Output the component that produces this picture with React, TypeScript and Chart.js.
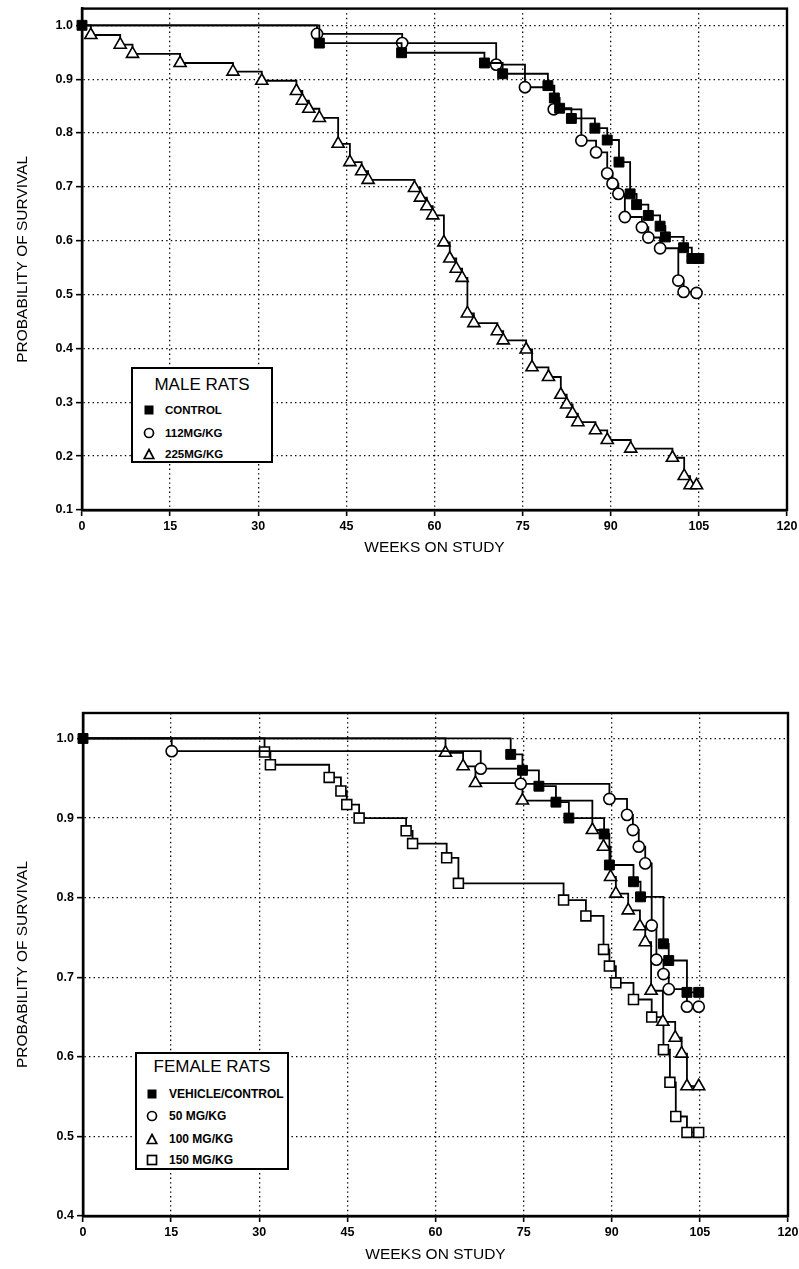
import React, { useEffect, useRef } from "react";
import { Chart, registerables } from "chart.js";

Chart.register(...registerables);

// ---------- axis ticks ----------
const weekTicks = [0, 15, 30, 45, 60, 75, 90, 105, 120];
const maleYTicks = [0.1, 0.2, 0.3, 0.4, 0.5, 0.6, 0.7, 0.8, 0.9, 1.0];
const femaleYTicks = [0.4, 0.5, 0.6, 0.7, 0.8, 0.9, 1.0];

// ---------- male rats ----------
const maleControlWeeks = [0, 40.4, 54.4, 68.5, 71.6, 79.3, 80.4, 81.3, 83.3, 87.3, 89.4, 91.4, 93.3, 94.4, 96.4, 98.4, 99.3, 102.4, 103.8, 105];
const maleControlSurv = [1.0, 0.967, 0.949, 0.93, 0.91, 0.888, 0.865, 0.846, 0.827, 0.809, 0.787, 0.746, 0.687, 0.667, 0.647, 0.627, 0.607, 0.587, 0.567, 0.567];

const male112Weeks = [0, 40.0, 54.5, 70.5, 75.4, 80.3, 85.0, 87.5, 89.4, 90.3, 91.3, 92.4, 95.3, 96.4, 98.4, 101.5, 102.4, 104.6];
const male112Surv = [1.0, 0.984, 0.967, 0.927, 0.885, 0.844, 0.786, 0.764, 0.725, 0.706, 0.687, 0.644, 0.625, 0.606, 0.586, 0.526, 0.505, 0.503];

const male225Weeks = [0, 1.5, 6.5, 8.6, 16.7, 25.7, 30.6, 36.5, 37.5, 38.6, 40.4, 43.6, 45.6, 47.6, 48.7, 56.6, 57.6, 58.7, 59.7, 61.6, 62.6, 63.7, 64.7, 65.6, 66.7, 70.7, 71.7, 75.6, 76.6, 79.4, 81.5, 82.5, 83.5, 84.4, 87.4, 89.4, 93.4, 100.5, 102.5, 103.5, 104.6];
const male225Surv = [1.0, 0.982, 0.964, 0.947, 0.93, 0.914, 0.897, 0.878, 0.86, 0.845, 0.828, 0.78, 0.746, 0.729, 0.713, 0.698, 0.68, 0.664, 0.647, 0.597, 0.567, 0.548, 0.531, 0.465, 0.447, 0.432, 0.415, 0.398, 0.365, 0.347, 0.314, 0.296, 0.279, 0.263, 0.248, 0.23, 0.214, 0.197, 0.163, 0.146, 0.146];

// ---------- female rats ----------
const femaleControlWeeks = [0, 72.8, 74.8, 77.6, 80.5, 82.7, 88.7, 89.6, 93.7, 94.9, 98.8, 99.7, 102.8, 104.8];
const femaleControlSurv = [1.0, 0.98, 0.96, 0.94, 0.92, 0.9, 0.88, 0.841, 0.82, 0.801, 0.742, 0.721, 0.681, 0.681];

const female50Weeks = [0, 15.1, 67.7, 74.5, 89.6, 92.6, 93.6, 94.6, 95.7, 96.8, 97.6, 98.8, 99.7, 102.8, 104.8];
const female50Surv = [1.0, 0.984, 0.962, 0.943, 0.924, 0.904, 0.885, 0.864, 0.843, 0.765, 0.722, 0.704, 0.685, 0.663, 0.663];

const female100Weeks = [0, 61.7, 64.7, 66.8, 74.8, 86.7, 88.6, 89.8, 90.7, 92.8, 94.8, 95.7, 96.7, 98.7, 100.8, 101.9, 102.8, 104.8];
const female100Surv = [1.0, 0.982, 0.965, 0.944, 0.922, 0.885, 0.864, 0.826, 0.805, 0.784, 0.764, 0.744, 0.683, 0.644, 0.624, 0.604, 0.563, 0.563];

const female150Weeks = [0, 30.9, 31.9, 41.9, 43.9, 44.9, 47.0, 55.0, 56.1, 61.9, 63.9, 81.8, 85.6, 88.6, 89.6, 90.7, 93.7, 96.8, 98.8, 99.9, 100.9, 102.8, 104.8];
const female150Surv = [1.0, 0.983, 0.967, 0.951, 0.934, 0.917, 0.9, 0.884, 0.868, 0.85, 0.818, 0.797, 0.777, 0.735, 0.714, 0.693, 0.672, 0.65, 0.609, 0.568, 0.525, 0.505, 0.505];

const FONT = "'Liberation Sans', Arial, Helvetica, sans-serif";

type Marker = "filledSquare" | "circle" | "triangle" | "openSquare";

function toPoints(xs: number[], ys: number[]) {
  return xs.map((x, i) => ({ x, y: ys[i] }));
}

function makeDataset(label: string, xs: number[], ys: number[], marker: Marker, hideFirst: boolean) {
  const style =
    marker === "filledSquare" ? "rect" : marker === "openSquare" ? "rect" : marker === "circle" ? "circle" : "triangle";
  const radius = marker === "filledSquare" || marker === "openSquare" ? 7 : marker === "circle" ? 5.6 : 7;
  return {
    label,
    data: toPoints(xs, ys),
    stepped: "before" as const,
    borderColor: "#000",
    borderWidth: 1.8,
    fill: false,
    clip: false as const,
    pointStyle: style,
    pointRadius: xs.map((_, i) => (hideFirst && i === 0 ? 0 : radius)),
    pointBackgroundColor: marker === "filledSquare" ? "#000" : "#fff",
    pointBorderColor: "#000",
    pointBorderWidth: marker === "filledSquare" ? 1 : 1.6,
  };
}

const framePlugin = {
  id: "frame",
  afterDraw(chart: any) {
    const { ctx, chartArea } = chart;
    ctx.save();
    ctx.strokeStyle = "#000";
    ctx.lineWidth = 2.4;
    ctx.strokeRect(chartArea.left, chartArea.top, chartArea.right - chartArea.left, chartArea.bottom - chartArea.top);
    ctx.restore();
  },
};

function buildConfig(
  datasets: any[],
  yMin: number,
  yMax: number,
  yTicks: number[],
  pad: { left: number; right: number; top: number; xHeight: number }
) {
  const gridCommon = {
    color: "#000",
    lineWidth: 1.3,
    tickLength: 6,
    tickColor: "#000",
    tickWidth: 1.6,
    tickBorderDash: [],
  };
  const borderCommon = { display: true, color: "#000", width: 2.4, dash: [1.4, 3.2] };
  const zeroPad = (s: any) => {
    s.paddingLeft = 0;
    s.paddingRight = 0;
    s.paddingTop = 0;
    s.paddingBottom = 0;
  };
  return {
    type: "line" as const,
    data: { datasets },
    options: {
      animation: false as const,
      responsive: false,
      maintainAspectRatio: false,
      devicePixelRatio: 1,
      layout: { padding: { left: 0, right: pad.right, top: pad.top, bottom: 0 } },
      plugins: { legend: { display: false }, tooltip: { enabled: false } },
      scales: {
        x: {
          type: "linear" as const,
          min: 0,
          max: 120,
          afterBuildTicks: (s: any) => {
            s.ticks = weekTicks.map((v) => ({ value: v }));
          },
          afterFit: (s: any) => {
            s.height = pad.xHeight;
            zeroPad(s);
          },
          ticks: {
            color: "#000",
            font: { family: FONT, size: 12.5, weight: "bold" as const },
            padding: 3,
            maxRotation: 0,
            autoSkip: false,
            callback: (v: any) => String(v),
          },
          grid: gridCommon,
          border: borderCommon,
          title: {
            display: true,
            text: "WEEKS ON STUDY",
            color: "#000",
            font: { family: FONT, size: 15.5, weight: "normal" as const },
            padding: { top: 0, bottom: 0 },
          },
        },
        y: {
          type: "linear" as const,
          min: yMin,
          max: yMax,
          afterBuildTicks: (s: any) => {
            s.ticks = yTicks.map((v) => ({ value: v }));
          },
          afterFit: (s: any) => {
            s.width = pad.left;
            zeroPad(s);
          },
          ticks: {
            color: "#000",
            font: { family: FONT, size: 12.5, weight: "bold" as const },
            padding: 3,
            autoSkip: false,
            callback: (v: any) => Number(v).toFixed(1),
          },
          grid: gridCommon,
          border: borderCommon,
          title: {
            display: true,
            text: "PROBABILITY OF SURVIVAL",
            color: "#000",
            font: { family: FONT, size: 15.5, weight: "normal" as const },
            padding: { top: 13, bottom: 0 },
          },
        },
      },
    },
    plugins: [framePlugin],
  };
}

function SurvivalChart(props: {
  top: number;
  height: number;
  datasets: any[];
  yMin: number;
  yMax: number;
  yTicks: number[];
  pad: { left: number; right: number; top: number; xHeight: number };
}) {
  const ref = useRef<HTMLCanvasElement | null>(null);
  useEffect(() => {
    if (!ref.current) return;
    const chart = new Chart(ref.current, buildConfig(props.datasets, props.yMin, props.yMax, props.yTicks, props.pad) as any);
    return () => chart.destroy();
  }, []);
  return (
    <canvas
      ref={ref}
      width={799}
      height={props.height}
      style={{ position: "absolute", left: 0, top: props.top, width: 799, height: props.height }}
    />
  );
}

function MarkerIcon({ kind }: { kind: Marker }) {
  return (
    <svg width={12} height={12} viewBox="0 0 12 12" style={{ display: "block" }}>
      {kind === "filledSquare" && <rect x={1.5} y={1.5} width={9} height={9} fill="#000" />}
      {kind === "circle" && <circle cx={6} cy={6} r={4.5} fill="#fff" stroke="#000" strokeWidth={1.7} />}
      {kind === "triangle" && <polygon points="6,1.5 10.8,10.5 1.2,10.5" fill="#fff" stroke="#000" strokeWidth={1.7} />}
      {kind === "openSquare" && <rect x={1.5} y={1.5} width={9} height={9} fill="#fff" stroke="#000" strokeWidth={1.7} />}
    </svg>
  );
}

function LegendBox(props: {
  left: number;
  top: number;
  width: number;
  height: number;
  title: string;
  titleY: number;
  titleSize: number;
  items: { kind: Marker; label: string; y: number }[];
  itemSize: number;
  markerX: number;
  textX: number;
}) {
  return (
    <div
      style={{
        position: "absolute",
        left: props.left,
        top: props.top,
        width: props.width,
        height: props.height,
        boxSizing: "border-box",
        border: "2px solid #000",
        background: "#fff",
        fontFamily: FONT,
        color: "#000",
      }}
    >
      <div
        style={{
          position: "absolute",
          left: 0,
          right: 0,
          top: props.titleY - 11,
          height: 22,
          lineHeight: "22px",
          textAlign: "center",
          fontSize: props.titleSize,
          whiteSpace: "nowrap",
        }}
      >
        {props.title}
      </div>
      {props.items.map((it) => (
        <div key={it.label} style={{ position: "absolute", left: 0, top: it.y - 8, height: 16, width: "100%" }}>
          <div style={{ position: "absolute", left: props.markerX - 6, top: 2 }}>
            <MarkerIcon kind={it.kind} />
          </div>
          <div
            style={{
              position: "absolute",
              left: props.textX,
              top: 0,
              height: 16,
              lineHeight: "16px",
              fontSize: props.itemSize,
              fontWeight: "bold",
              whiteSpace: "nowrap",
            }}
          >
            {it.label}
          </div>
        </div>
      ))}
    </div>
  );
}

export default function App() {
  const maleDatasets = [
    makeDataset("CONTROL", maleControlWeeks, maleControlSurv, "filledSquare", false),
    makeDataset("112MG/KG", male112Weeks, male112Surv, "circle", true),
    makeDataset("225MG/KG", male225Weeks, male225Surv, "triangle", true),
  ];
  const femaleDatasets = [
    makeDataset("VEHICLE/CONTROL", femaleControlWeeks, femaleControlSurv, "filledSquare", false),
    makeDataset("50 MG/KG", female50Weeks, female50Surv, "circle", true),
    makeDataset("100 MG/KG", female100Weeks, female100Surv, "triangle", true),
    makeDataset("150 MG/KG", female150Weeks, female150Surv, "openSquare", true),
  ];
  return (
    <div style={{ position: "absolute", left: 0, top: 0, width: 799, height: 1269, background: "#fff", overflow: "hidden" }}>
      <SurvivalChart
        top={0}
        height={557}
        datasets={maleDatasets}
        yMin={0.1}
        yMax={1.031}
        yTicks={maleYTicks}
        pad={{ left: 82, right: 12, top: 8, xHeight: 47 }}
      />
      <SurvivalChart
        top={700}
        height={564}
        datasets={femaleDatasets}
        yMin={0.4}
        yMax={1.032}
        yTicks={femaleYTicks}
        pad={{ left: 83, right: 11, top: 13, xHeight: 48 }}
      />
      <LegendBox
        left={131}
        top={367}
        width={142}
        height={96}
        title="MALE RATS"
        titleY={16}
        titleSize={17}
        itemSize={11.5}
        markerX={16}
        textX={32}
        items={[
          { kind: "filledSquare", label: "CONTROL", y: 41 },
          { kind: "circle", label: "112MG/KG", y: 64 },
          { kind: "triangle", label: "225MG/KG", y: 85 },
        ]}
      />
      <LegendBox
        left={135}
        top={1052}
        width={154}
        height={118}
        title="FEMALE RATS"
        titleY={13}
        titleSize={17}
        itemSize={12}
        markerX={15}
        textX={32}
        items={[
          { kind: "filledSquare", label: "VEHICLE/CONTROL", y: 40 },
          { kind: "circle", label: "50 MG/KG", y: 62 },
          { kind: "triangle", label: "100 MG/KG", y: 85 },
          { kind: "openSquare", label: "150 MG/KG", y: 106 },
        ]}
      />
    </div>
  );
}
